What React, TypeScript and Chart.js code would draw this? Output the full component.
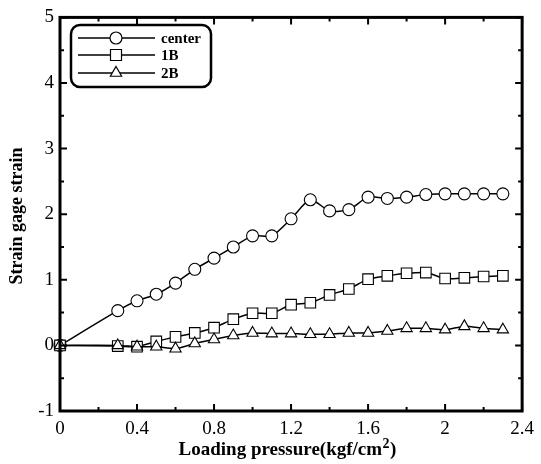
import React, { useEffect, useRef } from "react";
import { Chart, registerables } from "chart.js";
Chart.register(...registerables);

const pressure = [0, 0.3, 0.4, 0.5, 0.6, 0.7, 0.8, 0.9, 1.0, 1.1, 1.2, 1.3, 1.4, 1.5, 1.6, 1.7, 1.8, 1.9, 2.0, 2.1, 2.2, 2.3];
const centerStrain = [0, 0.53, 0.68, 0.78, 0.95, 1.16, 1.33, 1.5, 1.67, 1.67, 1.93, 2.22, 2.05, 2.07, 2.26, 2.24, 2.26, 2.3, 2.31, 2.31, 2.31, 2.31];
const b1Strain = [0, -0.01, -0.02, 0.06, 0.13, 0.19, 0.27, 0.4, 0.49, 0.49, 0.62, 0.65, 0.77, 0.86, 1.01, 1.06, 1.1, 1.11, 1.02, 1.03, 1.05, 1.06];
const b2Strain = [0, 0, -0.02, -0.02, -0.05, 0.03, 0.09, 0.15, 0.19, 0.18, 0.18, 0.17, 0.17, 0.19, 0.19, 0.22, 0.26, 0.26, 0.24, 0.29, 0.26, 0.24];

const seriesNames = ["center", "1B", "2B"];
const xTickValues = [0, 0.4, 0.8, 1.2, 1.6, 2, 2.4];
const xMinorValues = [0.2, 0.6, 1.0, 1.4, 1.8, 2.2];
const yTickValues = [-1, 0, 1, 2, 3, 4, 5];
const yMinorValues = [-0.5, 0.5, 1.5, 2.5, 3.5, 4.5];
const xTitleMain = "Loading pressure(kgf/cm";
const xTitleSup = "2";
const xTitleEnd = ")";
const yTitle = "Strain gage strain";

const FONT = "'Liberation Serif', 'DejaVu Serif', serif";

function drawMarker(ctx: CanvasRenderingContext2D, style: string, x: number, y: number) {
  ctx.beginPath();
  if (style === "circle") {
    ctx.arc(x, y, 6, 0, Math.PI * 2);
  } else if (style === "rect") {
    ctx.rect(x - 5.5, y - 5.5, 11, 11);
  } else {
    const r = 6.5;
    ctx.moveTo(x, y - r);
    ctx.lineTo(x + r * 0.866, y + r * 0.5);
    ctx.lineTo(x - r * 0.866, y + r * 0.5);
    ctx.closePath();
  }
  ctx.fillStyle = "#fff";
  ctx.fill();
  ctx.lineWidth = 1.2;
  ctx.strokeStyle = "#000";
  ctx.stroke();
}

const framePlugin = {
  id: "frame",
  afterDraw(chart: any) {
    const { ctx, chartArea: a, scales } = chart;
    const xs = scales.x;
    const ys = scales.y;
    ctx.save();
    ctx.strokeStyle = "#000";
    ctx.lineWidth = 2;
    const vx = (v: number, len: number) => {
      const px = xs.getPixelForValue(v);
      ctx.beginPath();
      ctx.moveTo(px, a.bottom);
      ctx.lineTo(px, a.bottom - len);
      ctx.moveTo(px, a.top);
      ctx.lineTo(px, a.top + len);
      ctx.stroke();
    };
    const vy = (v: number, len: number) => {
      const py = ys.getPixelForValue(v);
      ctx.beginPath();
      ctx.moveTo(a.left, py);
      ctx.lineTo(a.left + len, py);
      ctx.moveTo(a.right, py);
      ctx.lineTo(a.right - len, py);
      ctx.stroke();
    };
    xTickValues.forEach((v) => vx(v, 7));
    xMinorValues.forEach((v) => vx(v, 4));
    yTickValues.forEach((v) => vy(v, 7));
    yMinorValues.forEach((v) => vy(v, 4));
    ctx.lineWidth = 3;
    ctx.strokeRect(a.left, a.top, a.right - a.left, a.bottom - a.top);

    // legend
    const lx = 71, ly = 25, lw = 140, lh = 62, r = 9;
    ctx.beginPath();
    ctx.moveTo(lx + r, ly);
    ctx.arcTo(lx + lw, ly, lx + lw, ly + lh, r);
    ctx.arcTo(lx + lw, ly + lh, lx, ly + lh, r);
    ctx.arcTo(lx, ly + lh, lx, ly, r);
    ctx.arcTo(lx, ly, lx + lw, ly, r);
    ctx.closePath();
    ctx.fillStyle = "#fff";
    ctx.fill();
    ctx.lineWidth = 2.5;
    ctx.stroke();
    const styles = ["circle", "rect", "triangle"];
    const rows = [38, 55, 73];
    seriesNames.forEach((name, i) => {
      const yy = rows[i];
      ctx.beginPath();
      ctx.lineWidth = 1.3;
      ctx.moveTo(78, yy);
      ctx.lineTo(155, yy);
      ctx.stroke();
      drawMarker(ctx, styles[i], 116, yy);
      ctx.fillStyle = "#000";
      ctx.font = `bold 15px ${FONT}`;
      ctx.textAlign = "left";
      ctx.textBaseline = "middle";
      ctx.fillText(name, 161, yy + 1);
    });

    // x title with superscript
    ctx.fillStyle = "#000";
    ctx.textAlign = "left";
    ctx.textBaseline = "alphabetic";
    const mainFont = `bold 19px ${FONT}`;
    const supFont = `bold 14px ${FONT}`;
    ctx.font = mainFont;
    const w1 = ctx.measureText(xTitleMain).width;
    const w3 = ctx.measureText(xTitleEnd).width;
    ctx.font = supFont;
    const w2 = ctx.measureText(xTitleSup).width;
    let sx = 287 - (w1 + w2 + w3) / 2;
    const base = 455;
    ctx.font = mainFont;
    ctx.fillText(xTitleMain, sx, base);
    sx += w1;
    ctx.font = supFont;
    ctx.fillText(xTitleSup, sx + 0.5, base - 7);
    sx += w2 + 1;
    ctx.font = mainFont;
    ctx.fillText(xTitleEnd, sx, base);

    // y title
    ctx.font = `bold 18px ${FONT}`;
    ctx.textAlign = "center";
    ctx.textBaseline = "middle";
    ctx.save();
    ctx.translate(17, 216);
    ctx.rotate(-Math.PI / 2);
    ctx.fillText(yTitle, 0, 0);
    ctx.restore();
    ctx.restore();
  },
};

export default function App() {
  const ref = useRef<HTMLCanvasElement>(null);
  useEffect(() => {
    if (!ref.current) return;
    const mk = (label: string, data: number[], style: string, radius: number) => ({
      label,
      data: pressure.map((p, i) => ({ x: p, y: data[i] })),
      borderColor: "#000",
      borderWidth: 1.5,
      backgroundColor: "#fff",
      pointStyle: style,
      pointRadius: radius,
      pointBorderWidth: 1.1,
      pointBorderColor: "#000",
      pointBackgroundColor: "#fff",
      tension: 0.25,
      clip: false as const,
    });
    const chart = new Chart(ref.current, {
      type: "line",
      data: {
        datasets: [
          mk(seriesNames[2], b2Strain, "triangle", 6.5),
          mk(seriesNames[1], b1Strain, "rect", 7.5),
          mk(seriesNames[0], centerStrain, "circle", 6),
        ],
      },
      options: {
        animation: false,
        responsive: false,
        layout: { padding: { top: 15, right: 13, left: 0, bottom: 0 } },
        plugins: { legend: { display: false }, tooltip: { enabled: false } },
        scales: {
          x: {
            type: "linear",
            min: 0,
            max: 2.4,
            afterBuildTicks: (s: any) => {
              s.ticks = xTickValues.map((v) => ({ value: v }));
            },
            afterFit: (s: any) => {
              s.height = 53;
            },
            grid: { display: false, drawTicks: false },
            border: { display: false },
            ticks: {
              padding: 7,
              color: "#000",
              font: { family: FONT, size: 19 },
              maxRotation: 0,
              autoSkip: false,
              callback: (v: any) => String(parseFloat(Number(v).toFixed(1))),
            },
          },
          y: {
            type: "linear",
            min: -1,
            max: 5,
            afterBuildTicks: (s: any) => {
              s.ticks = yTickValues.map((v) => ({ value: v }));
            },
            afterFit: (s: any) => {
              s.width = 60;
            },
            grid: { display: false, drawTicks: false },
            border: { display: false },
            ticks: {
              padding: 6,
              color: "#000",
              font: { family: FONT, size: 19 },
              autoSkip: false,
              callback: (v: any) => String(v),
            },
          },
        },
      },
      plugins: [framePlugin],
    });
    return () => chart.destroy();
  }, []);
  return (
    <div style={{ position: "fixed", left: 0, top: 0, width: 541, height: 464, background: "#fff" }}>
      <canvas ref={ref} width={541} height={464} style={{ display: "block" }} />
    </div>
  );
}
